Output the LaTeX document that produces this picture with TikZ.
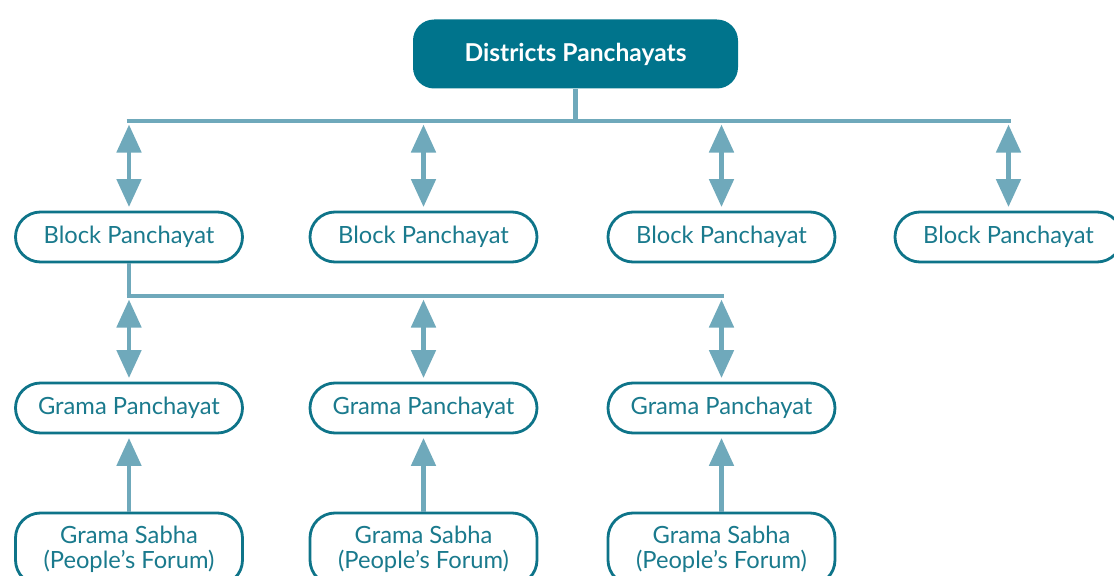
\documentclass[tikz,border=0pt]{standalone}
\usepackage{fontspec}
\setmainfont{Lato}
\usetikzlibrary{arrows.meta,positioning,calc}
\definecolor{topteal}{HTML}{00748C}
\definecolor{edgeteal}{HTML}{0E7489}
\definecolor{textteal}{HTML}{1A7A8D}
\definecolor{linkblue}{HTML}{6FA9BB}
\begin{document}
\begin{tikzpicture}[
  head/.style={fill=topteal, rounded corners=12pt, text=white, font=\fontsize{14}{16}\selectfont\bfseries, minimum width=6.5cm, minimum height=1.38cm, align=center},
  unit/.style={draw=edgeteal, line width=1.6pt, fill=white, rounded corners=0.5cm, text=textteal, font=\fontsize{13.5}{14}\selectfont, minimum width=4.54cm, minimum height=1.0cm, align=center},
  bus/.style={draw=linkblue, line width=2.8pt},
  link/.style={draw=linkblue, line width=2.8pt, -{Triangle[length=0.56cm,width=0.48cm]}, shorten >=2pt},
  twoway/.style={link, {Triangle[length=0.56cm,width=0.48cm]}-{Triangle[length=0.56cm,width=0.48cm]}, shorten <=2pt}]
\useasboundingbox (0,0) rectangle (22.28,-11.52);
\node[head] (dp) at (11.51,-1.08) {Districts Panchayats};
% block level
\node[unit] (bp1) at (2.58,-4.74) {Block Panchayat};
\node[unit] (bp2) at (8.47,-4.74) {Block Panchayat};
\node[unit] (bp3) at (14.43,-4.74) {Block Panchayat};
\node[unit] (bp4) at (20.17,-4.74) {Block Panchayat};
% village level
\node[unit] (gp1) at (2.58,-8.16) {Grama Panchayat};
\node[unit] (gp2) at (8.47,-8.16) {Grama Panchayat};
\node[unit] (gp3) at (14.43,-8.16) {Grama Panchayat};
\node[unit, minimum height=1.44cm] (gs1) at (2.58,-10.98) {Grama Sabha\\(People's Forum)};
\node[unit, minimum height=1.44cm] (gs2) at (8.47,-10.98) {Grama Sabha\\(People's Forum)};
\node[unit, minimum height=1.44cm] (gs3) at (14.43,-10.98) {Grama Sabha\\(People's Forum)};
% upper bus
\coordinate (ua) at (bp1 |- 0,-2.42);
\coordinate (ub) at (bp4 |- 0,-2.42);
\draw[bus] (dp.south) -- (dp.south |- ua);
\draw[bus] ([xshift=-1.4pt]ua) -- ([xshift=1.4pt]ub);
\foreach \b in {bp1,bp2,bp3,bp4} \draw[twoway] (\b |- ua) -- (\b.north);
% lower bus
\coordinate (la) at (bp1 |- 0,-5.92);
\coordinate (lb) at (bp3 |- 0,-5.92);
\draw[bus] (bp1.south) -- (la);
\draw[bus] ([xshift=-1.4pt]la) -- ([xshift=1.4pt]lb);
\foreach \g in {gp1,gp2,gp3} \draw[twoway] (\g |- la) -- (\g.north);
\foreach \i in {1,2,3} \draw[link] (gs\i.north) -- (gp\i.south);
\end{tikzpicture}
\end{document}
